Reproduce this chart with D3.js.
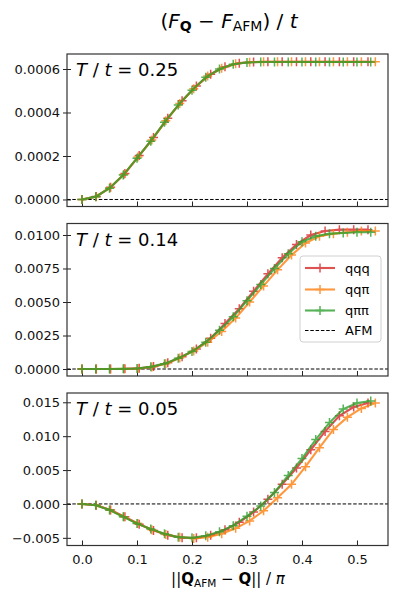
<!DOCTYPE html>
<html>
<head>
    <script src="https://cdnjs.cloudflare.com/ajax/libs/d3/7.8.5/d3.min.js"></script>
    <style>
        body { margin: 0; background: white; }
        svg { font-family: "DejaVu Sans", sans-serif; }
    </style>
</head>
<body>
    <svg id="chart" width="398" height="599"></svg>
    <script>
        // x positions of the three wave-vector paths
        const xQQQ = [0, 0.026, 0.052, 0.078, 0.104, 0.13, 0.156, 0.182, 0.208, 0.234, 0.26, 0.286, 0.312, 0.338, 0.364, 0.39, 0.416, 0.442, 0.468, 0.494, 0.52];
        const xQQP = [0, 0.0254, 0.0508, 0.0762, 0.1016, 0.127, 0.1524, 0.1778, 0.2032, 0.2286, 0.254, 0.2794, 0.3048, 0.3302, 0.3556, 0.381, 0.4064, 0.4318, 0.4572, 0.4826, 0.508, 0.5334];
        const xQPP = [0, 0.025, 0.05, 0.075, 0.1, 0.125, 0.15, 0.175, 0.2, 0.225, 0.25, 0.275, 0.3, 0.325, 0.35, 0.375, 0.4, 0.425, 0.45, 0.475, 0.5, 0.525];

        // T/t = 0.25
        const hotQQQ = [0, 0.000014, 0.000056, 0.00012, 0.000202, 0.000285, 0.000374, 0.000454, 0.000522, 0.000576, 0.00061, 0.000627, 0.000632, 0.000633, 0.000633, 0.000633, 0.000633, 0.000633, 0.000633, 0.000633, 0.000633];
        const hotQQP = [0, 0.000013, 0.000054, 0.000115, 0.000195, 0.000274, 0.000362, 0.000441, 0.000509, 0.000568, 0.000604, 0.000624, 0.000631, 0.000633, 0.000633, 0.000633, 0.000633, 0.000633, 0.000633, 0.000633, 0.000633, 0.000633];
        const hotQPP = [0, 0.000013, 0.000052, 0.000112, 0.00019, 0.000268, 0.000355, 0.000434, 0.000502, 0.000562, 0.0006, 0.000622, 0.00063, 0.000632, 0.000632, 0.000632, 0.000632, 0.000632, 0.000632, 0.000632, 0.000632, 0.000632];

        // T/t = 0.14
        const midQQQ = [0, 0, 0, 0.00001, 0.00005, 0.00018, 0.00046, 0.00092, 0.0015, 0.0023, 0.0034, 0.0045, 0.0058, 0.0071, 0.0083, 0.0093, 0.0100, 0.0103, 0.0104, 0.0104, 0.0104];
        const midQQP = [0, 0, 0, 0.00001, 0.00004, 0.00015, 0.0004, 0.00082, 0.00135, 0.002, 0.0028, 0.0038, 0.005, 0.0062, 0.0074, 0.0085, 0.0094, 0.0099, 0.0101, 0.0102, 0.0103, 0.0103];
        const midQPP = [0, 0, 0, 0.00001, 0.00004, 0.00016, 0.0004, 0.0008, 0.0013, 0.002, 0.0029, 0.0039, 0.0051, 0.0063, 0.0075, 0.0086, 0.0095, 0.0099, 0.0101, 0.01015, 0.0102, 0.0102];

        // T/t = 0.05
        const lowQQQ = [0, -0.0002, -0.0009, -0.0019, -0.003, -0.0039, -0.0046, -0.005, -0.005, -0.0046, -0.0038, -0.0027, -0.0012, 0.0007, 0.0029, 0.0053, 0.008, 0.0107, 0.013, 0.0143, 0.0149];
        const lowQQP = [0, -0.0002, -0.0009, -0.0019, -0.0029, -0.0038, -0.0045, -0.0049, -0.0051, -0.0049, -0.0044, -0.0036, -0.0025, -0.001, 0.0009, 0.0029, 0.0055, 0.0083, 0.011, 0.0128, 0.0141, 0.0149];
        const lowQPP = [0, -0.0002, -0.0009, -0.0019, -0.0029, -0.0037, -0.0044, -0.0049, -0.005, -0.0047, -0.0041, -0.0032, -0.0018, -0.0003, 0.0017, 0.0042, 0.0067, 0.0095, 0.012, 0.014, 0.0149, 0.0152];

        const temps = ["0.25", "0.14", "0.05"];
        const seriesNames = ["qqq", "qqπ", "qππ"];
        const colors = ["#d62728", "#ff7f0e", "#2ca02c"];
        const xTicks = [0, 0.1, 0.2, 0.3, 0.4, 0.5];
        const yTicks = [
            [0, 0.0002, 0.0004, 0.0006],
            [0, 0.0025, 0.005, 0.0075, 0.01],
            [-0.005, 0, 0.005, 0.01, 0.015]
        ];
        const yDomains = [[-0.0000323, 0.000669], [-0.000522, 0.010858], [-0.00613, 0.01637]];
        const yFormats = [".4f", ".4f", ".3f"];

        const panels = [
            [[xQQQ, hotQQQ], [xQQP, hotQQP], [xQPP, hotQPP]],
            [[xQQQ, midQQQ], [xQQP, midQQP], [xQPP, midQPP]],
            [[xQQQ, lowQQQ], [xQQP, lowQQP], [xQPP, lowQPP]]
        ];

        const svg = d3.select("#chart");
        const left = 67, right = 388;
        const tops = [54, 223.5, 393];
        const ph = 152.5;

        const x = d3.scaleLinear().domain([-0.02727, 0.5564]).range([left, right]);

        // title
        const title = svg.append("text")
            .attr("x", 229).attr("y", 28)
            .attr("text-anchor", "middle")
            .attr("font-size", 20);
        title.append("tspan").text("(");
        title.append("tspan").attr("font-style", "italic").text("F");
        title.append("tspan").attr("font-weight", "bold").attr("font-size", 14).attr("dy", 3).text("Q");
        title.append("tspan").attr("dy", -3).text(" − ");
        title.append("tspan").attr("font-style", "italic").text("F");
        title.append("tspan").attr("font-size", 14).attr("dy", 3).text("AFM");
        title.append("tspan").attr("dy", -3).text(") / ");
        title.append("tspan").attr("font-style", "italic").text("t");

        panels.forEach((series, p) => {
            const top = tops[p], bottom = top + ph;
            const y = d3.scaleLinear().domain(yDomains[p]).range([bottom, top]);
            const g = svg.append("g");

            const clipId = "clip" + p;
            g.append("clipPath").attr("id", clipId)
                .append("rect").attr("x", left).attr("y", top)
                .attr("width", right - left).attr("height", ph);

            // y axis, ticks crossing the spine
            const yAxis = g.append("g")
                .attr("transform", `translate(${left},0)`)
                .call(d3.axisLeft(y).tickValues(yTicks[p])
                    .tickFormat(d => d3.format(yFormats[p])(d).replace("-", "−"))
                    .tickSizeInner(4).tickSizeOuter(0).tickPadding(3));
            yAxis.select(".domain").remove();
            yAxis.selectAll(".tick line").attr("x2", 4).attr("x1", -4).attr("stroke", "#222");
            yAxis.selectAll(".tick text").attr("font-size", 13).attr("fill", "#111")
                .attr("font-family", "DejaVu Sans");

            // x axis, inward ticks
            const xAxis = g.append("g")
                .attr("transform", `translate(0,${bottom})`)
                .call(d3.axisBottom(x).tickValues(xTicks)
                    .tickFormat(p === 2 ? d3.format(".1f") : () => "")
                    .tickSizeInner(-5).tickSizeOuter(0).tickPadding(9));
            xAxis.select(".domain").remove();
            xAxis.selectAll(".tick line").attr("stroke", "#222");
            xAxis.selectAll(".tick text").attr("font-size", 13).attr("fill", "#111")
                .attr("font-family", "DejaVu Sans");

            const plot = g.append("g").attr("clip-path", `url(#${clipId})`);

            // AFM reference
            plot.append("line")
                .attr("x1", left).attr("x2", right)
                .attr("y1", y(0)).attr("y2", y(0))
                .attr("stroke", "black").attr("stroke-width", 1)
                .attr("stroke-dasharray", "3.5,1.8");

            const line = d3.line().x(d => x(d[0])).y(d => y(d[1]));

            series.forEach(([xs, ys], i) => {
                const pts = xs.map((v, k) => [v, ys[k]]);
                const s = plot.append("g").attr("opacity", 0.8);
                s.append("path").datum(pts)
                    .attr("d", line)
                    .attr("fill", "none")
                    .attr("stroke", colors[i])
                    .attr("stroke-width", 2.1);
                s.selectAll("path.m").data(pts).join("path")
                    .attr("class", "m")
                    .attr("d", d => `M${x(d[0]) - 4.5},${y(d[1])}h9M${x(d[0])},${y(d[1]) - 4.5}v9`)
                    .attr("stroke", colors[i])
                    .attr("stroke-width", 1.5);
            });

            // frame
            g.append("rect")
                .attr("x", left).attr("y", top)
                .attr("width", right - left).attr("height", ph)
                .attr("fill", "none").attr("stroke", "#333").attr("stroke-width", 1.2);

            // temperature label
            const lab = g.append("text")
                .attr("x", 76).attr("y", top + 22)
                .attr("font-size", 18);
            lab.append("tspan").attr("font-style", "italic").text("T");
            lab.append("tspan").text(" / ");
            lab.append("tspan").attr("font-style", "italic").text("t");
            lab.append("tspan").text(" = " + temps[p]);

            // legend in the middle panel
            if (p === 1) {
                const lg = g.append("g");
                lg.append("rect")
                    .attr("x", 300).attr("y", 256)
                    .attr("width", 81).attr("height", 86)
                    .attr("rx", 3)
                    .attr("fill", "white").attr("fill-opacity", 0.8)
                    .attr("stroke", "#d0d0d0").attr("stroke-width", 1);
                const rows = [268, 289.5, 310.5, 330.5];
                seriesNames.forEach((name, i) => {
                    const r = lg.append("g").attr("opacity", 0.8);
                    r.append("line")
                        .attr("x1", 305).attr("x2", 335)
                        .attr("y1", rows[i]).attr("y2", rows[i])
                        .attr("stroke", colors[i]).attr("stroke-width", 2.1);
                    r.append("path")
                        .attr("d", `M315.5,${rows[i]}h9M320,${rows[i] - 4.5}v9`)
                        .attr("stroke", colors[i]).attr("stroke-width", 1.5);
                    lg.append("text").attr("x", 345).attr("y", rows[i] + 4.5)
                        .attr("font-size", 13).text(name);
                });
                lg.append("line")
                    .attr("x1", 305).attr("x2", 335)
                    .attr("y1", rows[3]).attr("y2", rows[3])
                    .attr("stroke", "black").attr("stroke-width", 1)
                    .attr("stroke-dasharray", "3.5,1.8");
                lg.append("text").attr("x", 345).attr("y", rows[3] + 4.5)
                    .attr("font-size", 13).text("AFM");
            }
        });

        // x label
        const xl = svg.append("text")
            .attr("x", 228).attr("y", 584)
            .attr("text-anchor", "middle")
            .attr("font-size", 15);
        xl.append("tspan").text("||");
        xl.append("tspan").attr("font-weight", "bold").text("Q");
        xl.append("tspan").attr("font-size", 10.5).attr("dy", 2.5).text("AFM");
        xl.append("tspan").attr("dy", -2.5).text(" − ");
        xl.append("tspan").attr("font-weight", "bold").text("Q");
        xl.append("tspan").text("|| / ");
        xl.append("tspan").attr("font-style", "italic").text("π");
    </script>
</body>
</html>
